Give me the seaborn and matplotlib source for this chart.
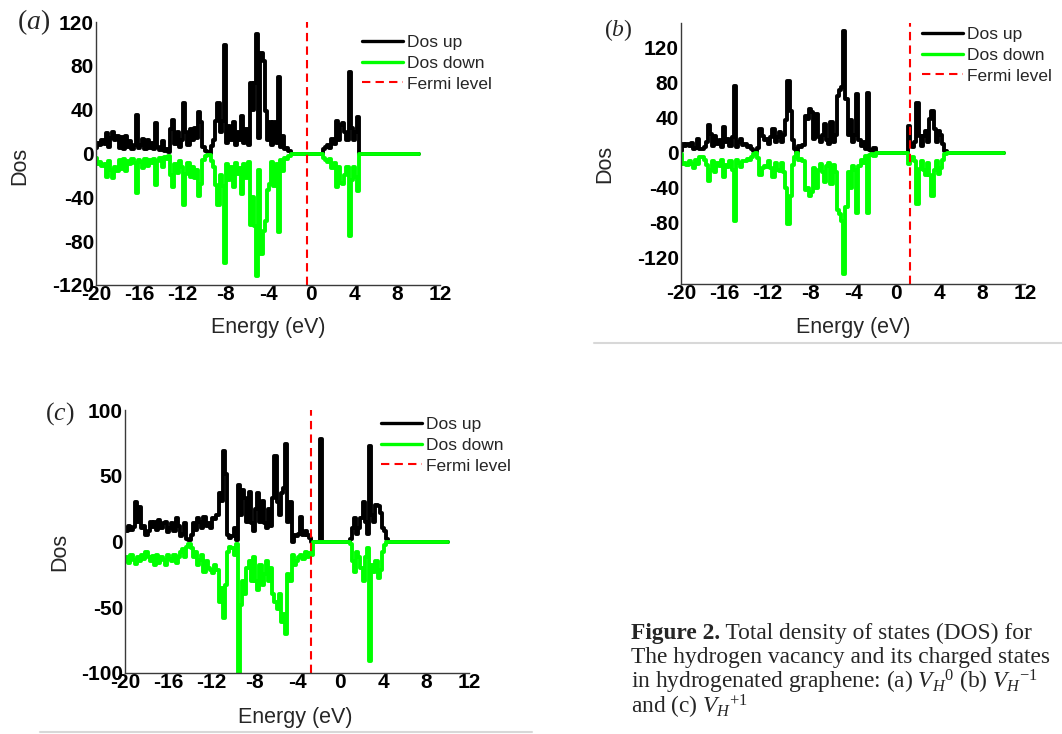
import numpy as np
import pandas as pd
import matplotlib
matplotlib.use("Agg")
import matplotlib.pyplot as plt
import seaborn as sns
from matplotlib.lines import Line2D

# ---------------- data ----------------
# energy grid (eV): -20.0 ... 4.8 in 0.2 steps, then 10.0
energy = np.append(np.round(np.arange(-20.0, 4.81, 0.2), 1), 10.0)

a_up = [
    5, 10, 8, 12, 9, 19, 6, 14, 20, 12,        # -20.0 .. -18.2
    16, 5, 15, 4, 16, 6, 11, 4, 8, 35,         # -18.0 .. -16.2
    5, 8, 13, 4, 12, 5, 10, 4, 28, 6,          # -16.0 .. -14.2
    3, 11, 2, 4, 1, 22, 31, 9, 20, 6,          # -14.0 .. -12.2
    12, 46, 20, 8, 22, 12, 23, 14, 38, 29,     # -12.0 .. -10.2
    6, 2, 1, 0, 7, 12, 30, 46, 20, 30,         # -10.0 .. -8.2
    99, 10, 25, 12, 29, 8, 20, 12, 34, 10,     # -8.0 .. -6.2
    22, 8, 64, 40, 64, 109, 14, 92, 84, 39,    # -6.0 .. -4.2
    12, 29, 8, 29, 10, 70, 6, 16, 4, 5,        # -4.0 .. -2.2
    2, 0, 0, 0, 0, 0, 0, 0, 0, 0,              # -2.0 .. -0.2
    0, 0, 0, 0, 0, 0, 4, 6, 8, 5,              # 0.0 .. 1.8
    13, 9, 30, 12, 26, 28, 20, 12, 74, 23,     # 2.0 .. 3.8
    12, 20, 33, 0, 0, 0,                       # 4.0 .. 4.8, 10.0
]
a_down = [
    -4, -10, -8, -11, -10, -21, -7, -15, -22, -12,
    -16, -6, -14, -5, -16, -7, -10, -5, -9, -36,
    -6, -8, -13, -5, -11, -6, -9, -5, -29, -7,
    -4, -12, -3, -5, -2, -20, -31, -10, -18, -7,
    -12, -47, -19, -9, -21, -12, -22, -15, -39, -28,
    -6, -2, -1, -1, -7, -12, -29, -47, -20, -30,
    -100, -10, -24, -12, -31, -9, -19, -13, -37, -10,
    -22, -8, -65, -40, -66, -112, -15, -92, -71, -62,
    -33, -28, -8, -30, -10, -72, -6, -16, -4, -5,
    -2, 0, 0, 0, 0, 0, 0, 0, 0, 0,
    0, 0, 0, 0, 0, 0, -4, -6, -8, -5,
    -13, -9, -31, -12, -27, -28, -20, -12, -75, -24,
    -12, -21, -34, 0, 0, 0,
]
b_up = [
    2, 10, 8, 10, 7, 11, 4, 5, 16, 4,          # -20.0
    4, 6, 12, 32, 21, 8, 19, 10, 14, 6,        # -18.0
    29, 12, 16, 8, 18, 76, 6, 12, 16, 9,       # -16.0
    10, 6, 8, 4, 2, 0, 5, 27, 19, 14,          # -14.0
    16, 10, 18, 27, 12, 18, 23, 12, 20, 37,    # -12.0
    82, 48, 14, 4, 0, 8, 6, 9, 42, 38,         # -10.0
    50, 46, 16, 44, 18, 12, 20, 33, 14, 10,    # -8.0
    35, 12, 20, 65, 71, 75, 139, 61, 20, 37,   # -6.0
    12, 20, 67, 14, 8, 12, 4, 68, 3, 2,        # -4.0
    5, 0, 0, 0, 0, 0, 0, 0, 0, 0,              # -2.0
    0, 0, 0, 0, 0, 0, 30, 10, 6, 12,           # 0.0
    57, 19, 8, 19, 25, 12, 38, 48, 27, 12,     # 2.0
    25, 20, 10, 2, 0, 0,                       # 4.0 .. 4.8, 10.0
]
b_down = [
    -2, -13, -12, -14, -10, -13, -17, -8, -13, -5,
    -5, -8, -14, -32, -20, -10, -22, -12, -15, -8,
    -28, -14, -16, -10, -20, -78, -8, -12, -16, -10,
    -10, -7, -8, -5, -2, 0, -6, -26, -18, -15,
    -16, -10, -18, -28, -12, -20, -21, -12, -22, -40,
    -82, -50, -14, -5, 0, -8, -7, -10, -43, -40,
    -49, -45, -18, -40, -20, -13, -22, -34, -15, -12,
    -36, -14, -22, -65, -70, -78, -139, -62, -22, -40,
    -15, -20, -69, -15, -8, -12, -4, -69, -3, -2,
    -4, 0, 0, 0, 0, 0, 0, 0, 0, 0,
    0, 0, 0, 0, 0, 0, -13, -8, -5, -10,
    -59, -19, -10, -20, -25, -12, -26, -49, -20, -10,
    -24, -18, -8, -2, 0, 0,
]
c_up = [
    10, 8, 12, 9, 11, 30, 15, 26, 10, 12,      # -20.0
    5, 8, 15, 11, 15, 9, 16, 10, 14, 15,       # -18.0
    7, 10, 14, 8, 18, 12, 4, 6, 14, 2,         # -16.0
    1, 5, 14, 9, 18, 15, 10, 19, 12, 14,       # -14.0
    10, 18, 17, 20, 37, 31, 69, 51, 5, 3,      # -12.0
    4, 10, 1, 43, 20, 39, 33, 15, 38, 14,      # -10.0
    8, 25, 37, 15, 31, 14, 10, 25, 12, 33,     # -8.0
    65, 30, 20, 37, 41, 74, 15, 30, 0, 5,      # -6.0
    4, 6, 19, 5, 8, 5, 3, 0, 0, 0,             # -4.0
    0, 78, 0, 0, 0, 0, 0, 0, 0, 0,             # -2.0
    0, 0, 0, 0, 0, 2, 10, 18, 6, 10,           # 0.0
    18, 30, 15, 6, 73, 20, 15, 28, 27, 22,     # 2.0
    10, 8, 2, 0, 0, 0,                         # 4.0 .. 4.8, 10.0
]
c_down = [
    -15, -12, -16, -10, -14, -17, -12, -15, -10, -13,
    -8, -12, -15, -11, -18, -10, -16, -12, -14, -18,
    -10, -13, -15, -10, -16, -12, -8, -6, -12, -4,
    -2, -5, -12, -8, -18, -14, -10, -23, -15, -20,
    -22, -24, -18, -22, -46, -35, -58, -33, -8, -4,
    -5, -10, -2, -100, -48, -30, -40, -20, -15, -30,
    -12, -30, -37, -18, -33, -25, -15, -30, -20, -40,
    -46, -51, -40, -61, -55, -70, -25, -30, -10, -18,
    -15, -12, -10, -13, -8, -12, -9, -10, 0, 0,
    0, 0, 0, 0, 0, 0, 0, 0, 0, 0,
    0, 0, 0, 0, 0, -2, -15, -23, -8, -12,
    -20, -30, -12, -5, -91, -18, -23, -15, -28, -22,
    -8, -3, 0, 0, 0, 0,
]

fermi_levels = [-0.4, 1.3, -2.67]
x_ticks = [-20, -16, -12, -8, -4, 0, 4, 8, 12]
y_ticks_a = [-120, -80, -40, 0, 40, 80, 120]
y_ticks_b = [-120, -80, -40, 0, 40, 80, 120]
y_ticks_c = [-100, -50, 0, 50, 100]
panel_tags = ["(a)", "(b)", "(c)"]
legend_labels = ["Dos up", "Dos down", "Fermi level"]
x_label = "Energy (eV)"
y_label = "Dos"

# ---------------- style ----------------
sns.set_theme(style="white")
plt.rcParams["font.family"] = ["Liberation Sans", "DejaVu Sans"]
plt.rcParams["axes.unicode_minus"] = False
plt.rcParams["mathtext.fontset"] = "custom"
plt.rcParams["mathtext.rm"] = "Liberation Serif"
plt.rcParams["mathtext.it"] = "Liberation Serif:italic"
plt.rcParams["mathtext.bf"] = "Liberation Serif:bold"

W, H = 1062, 734
fig = plt.figure(figsize=(W / 100, H / 100), dpi=100)
fig.patch.set_facecolor("white")


def rect(left, top, right, bottom):
    return [left / W, 1 - bottom / H, (right - left) / W, (bottom - top) / H]


panels = [
    dict(box=(96, 22, 440, 285), up=a_up, down=a_down, fermi=fermi_levels[0],
         ylim=(-120, 120), yticks=y_ticks_a, tag=panel_tags[0], tagpos=(17, 22),
         tagfs=20, leg=(362, 35), ylab=(20, 166), xlab=(268, 328)),
    dict(box=(681, 23, 1025, 284), up=b_up, down=b_down, fermi=fermi_levels[1],
         ylim=(-150, 148), yticks=y_ticks_b, tag=panel_tags[1], tagpos=(604, 30),
         tagfs=17, leg=(922, 27), ylab=(605, 164), xlab=(853, 328)),
    dict(box=(125, 410, 469, 673), up=c_up, down=c_down, fermi=fermi_levels[2],
         ylim=(-100, 100), yticks=y_ticks_c, tag=panel_tags[2], tagpos=(45, 414),
         tagfs=18.5, leg=(381, 417), ylab=(60, 552), xlab=(295, 718)),
]

for p in panels:
    ax = fig.add_axes(rect(*p["box"]))
    df = pd.DataFrame({"Energy": energy, "up": p["up"], "down": p["down"]})
    sns.lineplot(data=df, x="Energy", y="up", ax=ax, color="black", lw=2.8,
                 label=legend_labels[0], estimator=None, sort=False,
                 drawstyle="steps-mid")
    sns.lineplot(data=df, x="Energy", y="down", ax=ax, color="#00ff00", lw=2.8,
                 label=legend_labels[1], estimator=None, sort=False,
                 drawstyle="steps-mid")
    ax.axvline(p["fermi"], color="#ff0000", lw=1.5, ls=(0, (4, 2.5)),
               label=legend_labels[2])
    ax.set_xlim(-20, 12)
    ax.set_ylim(*p["ylim"])
    ax.set_xticks(x_ticks)
    ax.set_yticks(p["yticks"])
    ax.set_xlabel("")
    ax.set_ylabel("")
    ax.tick_params(axis="both", length=0, labelsize=15, colors="black")
    ax.tick_params(axis="x", pad=0)
    ax.tick_params(axis="y", pad=1.5)
    for lab in ax.get_xticklabels() + ax.get_yticklabels():
        lab.set_fontweight("bold")
    sns.despine(ax=ax)
    for s in ("left", "bottom"):
        ax.spines[s].set_color("#3a3a3a")
        ax.spines[s].set_linewidth(1.0)
    ax.grid(False)
    lx, ly = p["leg"]
    leg = ax.legend(loc="upper left", bbox_to_anchor=(lx / W, 1 - ly / H),
                    bbox_transform=fig.transFigure, frameon=False, fontsize=12.5,
                    handlelength=2.35, handletextpad=0.25, labelspacing=0.32,
                    borderpad=0, borderaxespad=0)
    for hl in leg.get_lines()[:2]:
        hl.set_linewidth(2.4)
    tx, ty = p["tagpos"]
    fig.text(tx / W, 1 - ty / H, "$" + p["tag"] + "$", fontsize=p["tagfs"],
             ha="left", va="center")
    yx, yy = p["ylab"]
    fig.text(yx / W, 1 - yy / H, y_label, rotation=90, fontsize=15.5,
             ha="center", va="center")
    xx, xy = p["xlab"]
    fig.text(xx / W, 1 - xy / H, x_label, fontsize=15.5, ha="center", va="center")

# separator lines from the source page
fig.add_artist(Line2D([594 / W, 1.0], [1 - 343 / H] * 2, color="#d8d8d8", lw=1.5,
                      transform=fig.transFigure))
fig.add_artist(Line2D([40 / W, 532 / W], [1 - 732 / H] * 2, color="#d8d8d8", lw=1.5,
                      transform=fig.transFigure))

# caption
cap_fs = 16.8
serif = ["Liberation Serif", "DejaVu Serif"]
t1 = fig.text(631 / W, 1 - 633 / H, "Figure 2.", fontfamily=serif, fontweight="bold",
              fontsize=cap_fs, ha="left", va="center")
renderer = fig.canvas.get_renderer()
bb = t1.get_window_extent(renderer)
fig.text(bb.x1 / W, 1 - 633 / H, " Total density of states (DOS) for", fontfamily=serif,
         fontsize=cap_fs, ha="left", va="center")
cap_lines = [
    "The hydrogen vacancy and its charged states",
    r"in hydrogenated graphene: (a) $V_H{}^0$ (b) $V_H{}^{-1}$",
    r"and (c) $V_H{}^{+1}$",
]
for yline, txt in zip([658, 682, 707], cap_lines):
    fig.text(631 / W, 1 - yline / H, txt, fontfamily=serif, fontsize=cap_fs,
             ha="left", va="center")

fig.savefig("out.png", dpi=100, facecolor="white")
